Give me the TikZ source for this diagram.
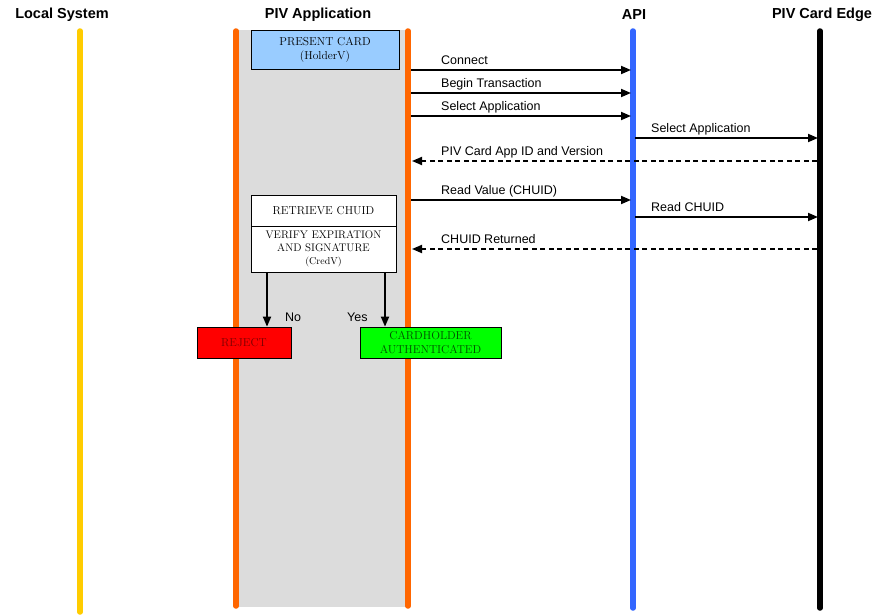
\documentclass[tikz,border=0pt]{standalone}
\usepackage{fontspec}
\newfontfamily\arialfont{Liberation Sans}
\usetikzlibrary{arrows.meta}
\definecolor{lsyellow}{HTML}{FFCC00}
\definecolor{pivorange}{HTML}{FF6600}
\definecolor{apiblue}{HTML}{3366FF}
\definecolor{laneGray}{HTML}{DCDCDC}
\definecolor{boxblue}{HTML}{99CCFF}
\definecolor{rejred}{HTML}{FF0000}
\definecolor{rejtext}{HTML}{7A0000}
\definecolor{okgreen}{HTML}{00FF00}
\definecolor{oktext}{HTML}{004D00}
\begin{document}
\begin{tikzpicture}[x=1pt,y=-1pt,
  title/.style={font=\arialfont\bfseries\fontsize{14.5}{16}\selectfont, inner sep=0pt},
  lifeline/.style={line width=5.5pt, line cap=round},
  msg/.style={line width=1.8pt, -{Triangle[length=10pt,width=8pt]}},
  reply/.style={msg, dash pattern=on 5pt off 3.5pt},
  msglabel/.style={font=\arialfont\fontsize{12.5}{14}\selectfont, anchor=base west, inner sep=0pt},
  procbox/.style={draw=black, line width=0.7pt, align=center, inner sep=0pt, font=\fontsize{11.5}{14}\selectfont},
  branch/.style={line width=1.8pt, -{Triangle[length=10pt,width=8pt]}}
]
\useasboundingbox (0,0) rectangle (878,615);
% lane background
\fill[laneGray] (236,30) rectangle (408,607);
% titles
\node[title] (tls) at (62,15) {Local System};
\node[title] (tpiv) at (318,15) {PIV Application};
\node[title] (tapi) at (634,15) {API};
\node[title] (tcard) at (822,15) {PIV Card Edge};
% lifeline coordinates
\coordinate (lsT) at (80,31); \coordinate (lsB) at (80,612);
\coordinate (plT) at (236,31); \coordinate (plB) at (236,606);
\coordinate (prT) at (408,31); \coordinate (prB) at (408,606);
\coordinate (apT) at (633,31); \coordinate (apB) at (633,608);
\coordinate (cdT) at (820,31); \coordinate (cdB) at (820,608);
\draw[lifeline, lsyellow] (lsT) -- (lsB);
\draw[lifeline, pivorange] (plT) -- (plB);
\draw[lifeline, pivorange] (prT) -- (prB);
\draw[lifeline, apiblue] (apT) -- (apB);
\draw[lifeline, black] (cdT) -- (cdB);
% present card
\node[procbox, fill=boxblue, minimum width=148pt, minimum height=39pt] (present) at (325,49.5) {PRESENT CARD\\(HolderV)};
% messages
\coordinate (m1s) at (411,70); \coordinate (m1e) at (631,70);
\coordinate (m2s) at (411,93); \coordinate (m2e) at (631,93);
\coordinate (m3s) at (411,116); \coordinate (m3e) at (631,116);
\coordinate (m4s) at (635,138); \coordinate (m4e) at (818,138);
\coordinate (m5s) at (817,161); \coordinate (m5e) at (412,161);
\coordinate (m6s) at (411,200); \coordinate (m6e) at (631,200);
\coordinate (m7s) at (635,217); \coordinate (m7e) at (818,217);
\coordinate (m8s) at (817,249); \coordinate (m8e) at (412,249);
\draw[msg] (m1s) -- (m1e);
\draw[msg] (m2s) -- (m2e);
\draw[msg] (m3s) -- (m3e);
\draw[msg] (m4s) -- (m4e);
\draw[reply] (m5s) -- (m5e);
\draw[msg] (m6s) -- (m6e);
\draw[msg] (m7s) -- (m7e);
\draw[reply] (m8s) -- (m8e);
\node[msglabel] (l1) at (441,64.5) {Connect};
\node[msglabel] (l2) at (441,87.5) {Begin Transaction};
\node[msglabel] (l3) at (441,110.5) {Select Application};
\node[msglabel] (l4) at (651,132.5) {Select Application};
\node[msglabel] (l5) at (441,155.5) {PIV Card App ID and Version};
\node[msglabel] (l6) at (441,194.5) {Read Value (CHUID)};
\node[msglabel] (l7) at (651,211.5) {Read CHUID};
\node[msglabel] (l8) at (441,243) {CHUID Returned};
% retrieve / verify
\node[procbox, fill=white, minimum width=145pt, minimum height=31pt] (retrieve) at (323.5,210.5) {RETRIEVE CHUID};
\node[procbox, fill=white, minimum width=145pt, minimum height=46pt, font=\fontsize{11}{13}\selectfont] (verify) at (323.5,249) {VERIFY EXPIRATION\\AND SIGNATURE\\{\fontsize{10}{13}\selectfont(CredV)}};
% outcomes
\node[procbox, fill=rejred, text=rejtext, minimum width=94pt, minimum height=31pt] (reject) at (244,342.5) {REJECT};
\node[procbox, fill=okgreen, text=oktext, minimum width=141pt, minimum height=31pt] (auth) at (430.5,342.5) {CARDHOLDER\\AUTHENTICATED};
\draw[branch] (verify.south -| 267,0) -- (reject.north -| 267,0);
\draw[branch] (verify.south -| 385,0) -- (auth.north -| 385,0);
\node[msglabel] (no) at (285,321) {No};
\node[msglabel] (yes) at (347,321) {Yes};
\end{tikzpicture}
\end{document}
